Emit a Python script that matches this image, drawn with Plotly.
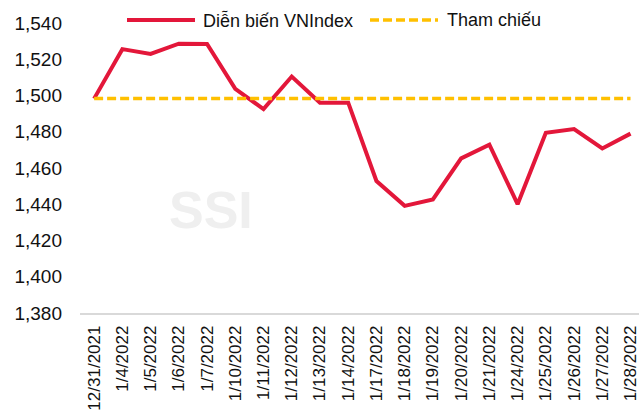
import plotly.graph_objects as go

dates = ["12/31/2021", "1/4/2022", "1/5/2022", "1/6/2022", "1/7/2022", "1/10/2022",
         "1/11/2022", "1/12/2022", "1/13/2022", "1/14/2022", "1/17/2022", "1/18/2022",
         "1/19/2022", "1/20/2022", "1/21/2022", "1/24/2022", "1/25/2022", "1/26/2022",
         "1/27/2022", "1/28/2022"]
vnindex = [1498.28, 1525.58, 1522.92, 1528.57, 1528.48, 1503.71, 1492.49, 1510.48,
           1496.02, 1496.05, 1452.84, 1439.13, 1442.68, 1465.30, 1472.89, 1440.06,
           1479.40, 1481.46, 1470.76, 1478.96]
reference = [1498.28] * len(dates)
y_ticks = [1380, 1400, 1420, 1440, 1460, 1480, 1500, 1520, 1540]
series_names = ["Diễn biến VNIndex", "Tham chiếu"]

FONT = "Liberation Sans, Arial, sans-serif"
RED = "#E3173A"
ORANGE = "#FFC000"
W, H = 639, 410
L, R, T, B = 80, 0, 23, 97


def px_x(px):
    return (px - L) / (W - L - R)


def px_y(py):
    return (H - B - py) / (H - T - B)


fig = go.Figure()
fig.add_trace(go.Scatter(x=dates, y=vnindex, mode="lines", name=series_names[0],
                         line=dict(color=RED, width=4)))
fig.add_trace(go.Scatter(x=dates, y=reference, mode="lines", name=series_names[1],
                         line=dict(color=ORANGE, width=3.5, dash="9px,4px")))

# watermark
fig.add_annotation(text="<b>SSI</b>", xref="paper", yref="paper", x=px_x(211), y=px_y(210),
                   xanchor="center", yanchor="middle", showarrow=False,
                   font=dict(family=FONT, size=52, color="#EFEFEF"))

# legend (drawn as layout decoration to match long line samples)
ly = px_y(20)
fig.add_shape(type="line", xref="paper", yref="paper", x0=px_x(127), x1=px_x(195),
              y0=ly, y1=ly, line=dict(color=RED, width=4))
fig.add_shape(type="line", xref="paper", yref="paper", x0=px_x(370), x1=px_x(438),
              y0=ly, y1=ly, line=dict(color=ORANGE, width=3.5, dash="9px,4px"))
fig.add_annotation(text=series_names[0], xref="paper", yref="paper", x=px_x(201), y=ly,
                   xanchor="left", yanchor="middle", showarrow=False,
                   font=dict(family=FONT, size=18, color="#111111"))
fig.add_annotation(text=series_names[1], xref="paper", yref="paper", x=px_x(445), y=ly,
                   xanchor="left", yanchor="middle", showarrow=False,
                   font=dict(family=FONT, size=18, color="#111111"))

fig.update_layout(
    width=W, height=H,
    margin=dict(l=L, r=R, t=T, b=B, autoexpand=False),
    paper_bgcolor="white", plot_bgcolor="white",
    font=dict(family=FONT, color="#111111"),
    showlegend=False,
    xaxis=dict(type="category", range=[-0.5, 19.3], tickangle=-90, automargin=False,
               tickfont=dict(size=17), showgrid=False, showline=True,
               linecolor="#D9D9D9", linewidth=1.5, ticks="", ticklabelstandoff=4),
    yaxis=dict(range=[1380, 1540], tickvals=y_ticks, tickformat=",d", automargin=False,
               tickfont=dict(size=19), showgrid=False, zeroline=False,
               showline=False, ticks="", ticklabelstandoff=17),
)
fig.write_html("out.html",
               config={"displayModeBar": False},
               post_script="document.body.style.margin='0';"
                           "document.documentElement.style.overflow='hidden';")
